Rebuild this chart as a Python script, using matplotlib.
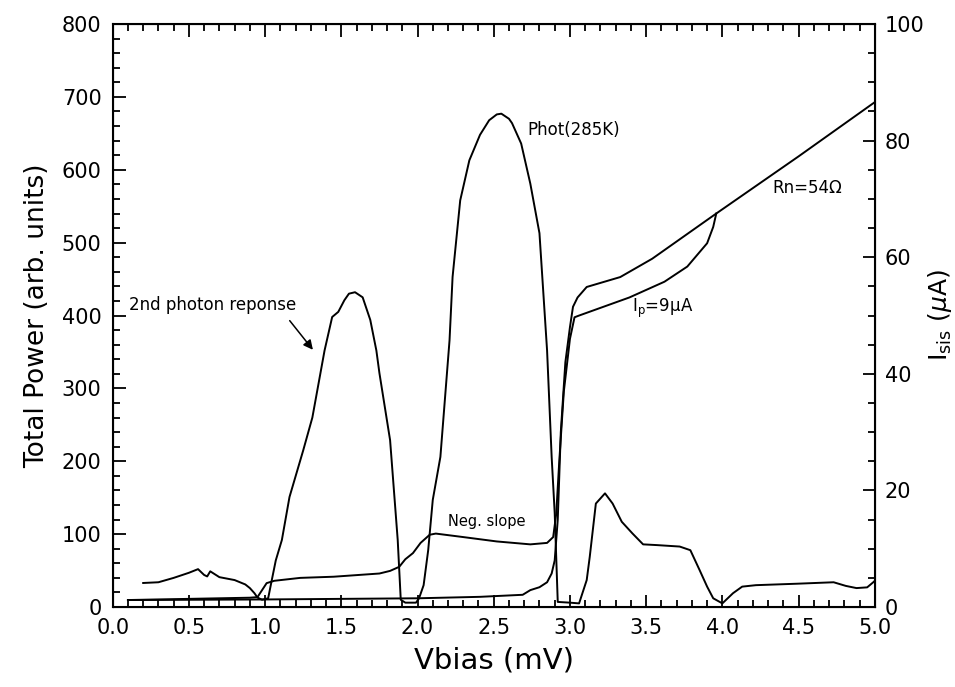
import matplotlib
matplotlib.use("Agg")
import matplotlib.pyplot as plt
from matplotlib.ticker import MultipleLocator

# Total power (left axis, arb. units)
pow_v = [0.20, 0.30, 0.40, 0.50, 0.56, 0.60, 0.62, 0.64, 0.70, 0.80, 0.87, 0.90,
         0.93, 0.95, 0.98, 1.02, 1.04, 1.07, 1.11, 1.16, 1.25, 1.31, 1.39, 1.44,
         1.48, 1.52, 1.55, 1.59, 1.64, 1.69, 1.73, 1.75, 1.82, 1.87, 1.89, 1.92,
         1.99, 2.01, 2.04, 2.07, 2.10, 2.15, 2.21, 2.23, 2.28, 2.34, 2.41, 2.47,
         2.52, 2.55, 2.60, 2.62, 2.68, 2.74, 2.80, 2.85, 2.88, 2.90, 2.92, 3.00,
         3.06, 3.11, 3.13, 3.17, 3.23, 3.28, 3.34, 3.41, 3.48, 3.57, 3.72, 3.79,
         3.85, 3.90, 3.94, 4.00, 4.07, 4.13, 4.22, 4.49, 4.73, 4.81, 4.88, 4.95,
         4.99, 5.00]
pow_p = [33, 34, 40, 47, 52, 44, 42, 49, 41, 37, 31, 26,
         19, 13, 10, 12, 33, 64, 92, 151, 215, 260, 352, 398,
         405, 421, 430, 432, 425, 394, 352, 321, 229, 92, 10, 6,
         6, 12, 30, 78, 147, 206, 366, 453, 558, 613, 648, 668,
         676, 677, 670, 664, 636, 581, 513, 352, 206, 129, 7, 6,
         5, 37, 69, 142, 156, 142, 117, 101, 86, 85, 83, 78,
         51, 28, 12, 5, 19, 28, 30, 32, 34, 29, 26, 27,
         34, 36]

# pumped IV curve (right axis, uA)
pump_v = [0.10, 0.50, 0.90, 0.95, 0.98, 1.01, 1.06, 1.23, 1.45, 1.75, 1.82, 1.88,
          1.92, 1.97, 2.02, 2.08, 2.12, 2.30, 2.52, 2.74, 2.85, 2.89, 2.91, 2.93,
          2.96, 3.00, 3.03, 3.06, 3.39, 3.62, 3.77, 3.90, 3.94, 3.96]
pump_i = [1.2, 1.4, 1.6, 1.7, 2.9, 4.1, 4.5, 5.0, 5.2, 5.75, 6.2, 6.9,
          8.2, 9.25, 11.0, 12.4, 12.6, 12.0, 11.25, 10.75, 11.0, 12.0, 16, 25,
          37, 46, 49.7, 50.0, 53.1, 55.8, 58.4, 62.4, 65.2, 67.5]

# unpumped IV curve (right axis, uA)
dc_v = [0.10, 1.00, 2.00, 2.41, 2.69, 2.74, 2.80, 2.85, 2.88, 2.90, 2.92, 2.94,
        2.97, 3.00, 3.02, 3.05, 3.11, 3.33, 3.54, 3.96, 4.50, 5.00]
dc_i = [1.2, 1.3, 1.5, 1.75, 2.1, 2.9, 3.4, 4.25, 5.75, 8.0, 15, 30,
        42, 48, 51.5, 53.1, 54.9, 56.6, 59.75, 67.5, 77.3, 86.6]

fig = plt.figure(figsize=(9.55, 6.87), dpi=100)
ax = fig.add_axes([0.118, 0.1164, 0.798, 0.8486])
ax2 = ax.twinx()

lw = 1.4
ax.plot(pow_v, pow_p, color='black', lw=lw)
ax2.plot(pump_v, pump_i, color='black', lw=lw)
ax2.plot(dc_v, dc_i, color='black', lw=lw)

ax.set_xlim(0, 5)
ax.set_ylim(0, 800)
ax2.set_ylim(0, 100)

ax.xaxis.set_major_locator(MultipleLocator(0.5))
ax.xaxis.set_minor_locator(MultipleLocator(0.1))
ax.yaxis.set_major_locator(MultipleLocator(100))
ax.yaxis.set_minor_locator(MultipleLocator(20))
ax2.yaxis.set_major_locator(MultipleLocator(20))
ax2.yaxis.set_minor_locator(MultipleLocator(5))
ax.xaxis.set_major_formatter(plt.FormatStrFormatter('%.1f'))

ax.tick_params(which='both', direction='in', top=True, right=False, width=1.3,
               labelsize=15)
ax.tick_params(which='major', length=9, pad=8)
ax.tick_params(which='minor', length=5)
ax2.tick_params(which='both', direction='in', width=1.3, labelsize=15)
ax2.tick_params(which='major', length=9, pad=7)
ax2.tick_params(which='minor', length=5)
for s in ax.spines.values():
    s.set_linewidth(1.5)

ax.set_xlabel('Vbias (mV)', fontsize=21, labelpad=6)
ax.set_ylabel('Total Power (arb. units)', fontsize=19, labelpad=8)
ax2.set_ylabel(r'I$_{\mathrm{sis}}$ ($\mu$A)', fontsize=18, labelpad=1)

# annotations
ax.text(0.11, 414, '2nd photon reponse', fontsize=12, ha='left', va='center')
ax.annotate('', xy=(1.325, 350), xytext=(1.15, 396),
            arrowprops=dict(arrowstyle='-|>', color='black', lw=1.1,
                            mutation_scale=14))
ax.text(2.72, 654, 'Phot(285K)', fontsize=12, ha='left', va='center')
ax.text(4.33, 575, 'Rn=54Ω', fontsize=12, ha='left', va='center')
ax.text(3.41, 410, r'I$_\mathrm{p}$=9μA', fontsize=12, ha='left', va='center')
ax.text(2.20, 117, 'Neg. slope', fontsize=10.5, ha='left', va='center')

plt.savefig('out.png', dpi=100, facecolor='white')
